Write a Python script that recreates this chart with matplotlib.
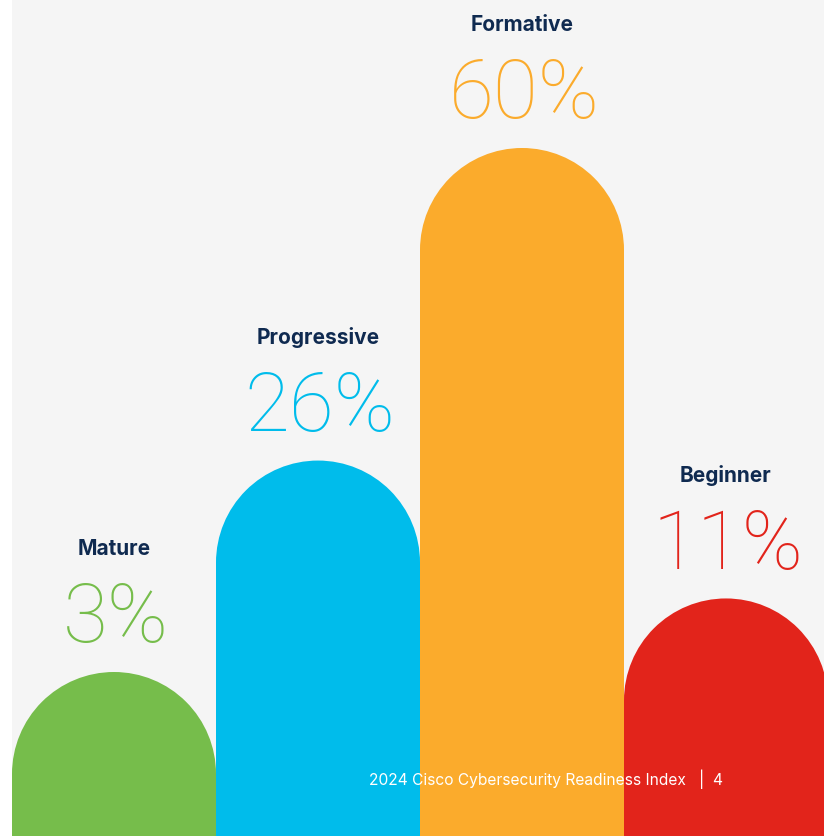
import matplotlib
matplotlib.use("Agg")
import matplotlib.pyplot as plt
from matplotlib.patches import Rectangle, Ellipse

categories = ["Mature", "Progressive", "Formative", "Beginner"]
values = [3, 26, 60, 11]
labels = ["3%", "26%", "60%", "11%"]
colors = ["#76bd4b", "#00bceb", "#fbab2c", "#e2241b"]
footer = "2024 Cisco Cybersecurity Readiness Index   |  4"

W, H, DPI = 824, 836, 100
fig = plt.figure(figsize=(W / DPI, H / DPI), dpi=DPI, facecolor="white")
ax_left = 12
ax = fig.add_axes([ax_left / W, 0, (W - ax_left) / W, 1])
ax.set_axis_off()
ax.add_patch(Rectangle((0, 0), 1, 1, transform=ax.transAxes, facecolor="#f5f5f5",
                       edgecolor="none", zorder=0))

bar_px = 204.0
px_per_x = bar_px
ymin = -14.84
px_per_y = 9.193
xmin = -0.5
xmax = xmin + (W - ax_left) / px_per_x
ymax = ymin + H / px_per_y
ax.set_xlim(xmin, xmax)
ax.set_ylim(ymin, ymax)

ry = 0.5 * px_per_x / px_per_y  # semicircle radius in y units

for i, (v, c) in enumerate(zip(values, colors)):
    cy = v - ry
    ax.add_patch(Rectangle((i - 0.5, ymin), 1.0, cy - ymin, facecolor=c, edgecolor="none", lw=0, zorder=1))
    ax.add_patch(Ellipse((i, cy), 1.0, 2 * ry, facecolor=c, edgecolor="none", lw=0, zorder=1))

for i, (v, cat, lab, c) in enumerate(zip(values, categories, labels, colors)):
    ax.text(i + 0.01, v + 52 / px_per_y, lab, ha="center", va="center", color=c,
            fontsize=59, family="Roboto", fontweight=100, zorder=2)
    ax.text(i, v + 123 / px_per_y, cat, ha="center", va="center", color="#0f2a50",
            fontsize=15, family="Inter", fontweight="bold", zorder=2)

fig.text(369 / W, 1 - 779 / H, footer, ha="left", va="center", color="white",
         fontsize=11.2, family="Inter")

fig.savefig("out.png", dpi=DPI, facecolor=fig.get_facecolor())
